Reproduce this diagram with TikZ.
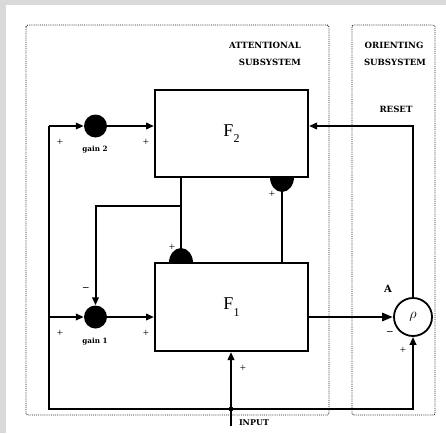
\documentclass[tikz,border=0pt]{standalone}
\usepackage{fontspec}
\setmainfont{Liberation Serif}
\newfontfamily\labfont{DejaVu Serif}
\usetikzlibrary{arrows.meta,calc}
\begin{document}
\begin{tikzpicture}[x=1pt,y=-1pt,
  wire/.style={line width=2pt},
  arr/.style={wire,-{Triangle[length=8pt,width=6.5pt]}},
  bigarr/.style={line width=2.8pt,-{Triangle[length=11pt,width=8pt]}},
  blk/.style={draw,line width=2pt,minimum width=153pt,minimum height=87pt,inner sep=0pt,font=\fontsize{18}{18}\selectfont},
  gainc/.style={circle,fill=black,minimum size=23pt,inner sep=0pt},
  cmp/.style={circle,draw,line width=1.8pt,minimum size=38pt,inner sep=0pt,font=\fontsize{15}{15}\selectfont},
  lbl/.style={font=\labfont\bfseries\fontsize{8.6}{9}\selectfont,inner sep=0pt},
  small/.style={font=\labfont\bfseries\fontsize{7.2}{8}\selectfont,inner sep=0pt},
  sgn/.style={font=\fontsize{11}{11}\selectfont,inner sep=0pt},
  dotbox/.style={densely dotted,line width=0.9pt,rounded corners=2pt,draw=black!85}]
\useasboundingbox (0,0) rectangle (446,433);
\fill[black!15] (0,0) rectangle (446,433);
\fill[white] (6,5) rectangle (446,433);
% subsystem frames
\draw[dotbox] (26,25) rectangle (329,415);
\draw[dotbox] (352,25) rectangle (435,415);
\node[lbl,anchor=east] (att) at (301,45) {ATTENTIONAL};
\node[lbl,anchor=east] (atts) at (301,62) {SUBSYSTEM};
\node[lbl] (ori) at (394,45) {ORIENTING};
\node[lbl] (oris) at (395,62) {SUBSYSTEM};
\node[lbl] (reset) at (396,109) {RESET};
% blocks
\node[blk] (F2) at (231.5,133.5) {F\raisebox{-0.35em}{\fontsize{12}{12}\selectfont 2}};
\node[blk,minimum height=88pt] (F1) at (231.5,307) {F\raisebox{-0.35em}{\fontsize{12}{12}\selectfont 1}};
\node[gainc] (g2) at (95.5,126) {};
\node[gainc] (g1) at (95.5,317) {};
\node[cmp] (A) at (413,317) {$\rho$};
% junction coordinates
\coordinate (tl) at (49,126);
\coordinate (ml) at (49,317);
\coordinate (bl) at (49,409);
\coordinate (inp) at (231,409);
\coordinate (inbot) at (231,426);
\coordinate (rt) at (413,126);
\coordinate (fb) at (181,206);
\coordinate (rv) at (282,0);
% outer input loop
\draw[arr] (tl) -- (bl) -| (A.south);
\draw[arr] (tl) -- (g2.west);
\draw[arr] (g2.east) -- (g2.east -| F2.west);
\draw[arr] (ml) -- (g1.west);
\draw[arr] (g1.east) -- (g1.east -| F1.west);
% input
\draw[arr] (inbot) -- (inbot |- F1.south);
\fill (inp) circle[radius=2.4pt];
% F1 to A
\draw[bigarr] (F1.east |- A.west) -- (A.west);
% reset
\draw[arr] (A.north) -- (rt) -- (rt -| F2.east);
% feedback F2 -> F1 and gain1
\draw[wire] (fb |- F2.south) -- (fb |- F1.north);
\draw[arr] (fb) -| (g1.north);
% F1 -> F2
\draw[wire] (rv |- F1.north) -- (rv |- F2.south);
% half discs
\fill (270,177) .. controls (270,185.3) and (275.4,192) .. (282,192) .. controls (288.6,192) and (294,185.3) .. (294,177) -- cycle;
\fill (169,263) .. controls (169,254.7) and (174.4,248) .. (181,248) .. controls (187.6,248) and (193,254.7) .. (193,263) -- cycle;
% labels
\node[small] (lg2) at (95,150) {gain 2};
\node[small] (lg1) at (95,342) {gain 1};
\node[sgn] (p1) at (60,142) {+};
\node[sgn] (p2) at (146,142) {+};
\node[sgn] (p3) at (60,333) {+};
\node[sgn] (p4) at (146,333) {+};
\node[sgn] (m1) at (86,289) {\textbf{–}};
\node[sgn] (p5) at (172,247) {+};
\node[sgn] (p6) at (272,194) {+};
\node[sgn] (p7) at (243,368) {+};
\node[sgn] (m2) at (390,333) {\textbf{–}};
\node[sgn] (p8) at (403,350) {+};
\node[lbl,font=\labfont\bfseries\fontsize{10}{10}\selectfont] (lA) at (388,289) {A};
\node[small,font=\labfont\bfseries\fontsize{8}{8}\selectfont] (linp) at (254,423) {INPUT};
\end{tikzpicture}
\end{document}
